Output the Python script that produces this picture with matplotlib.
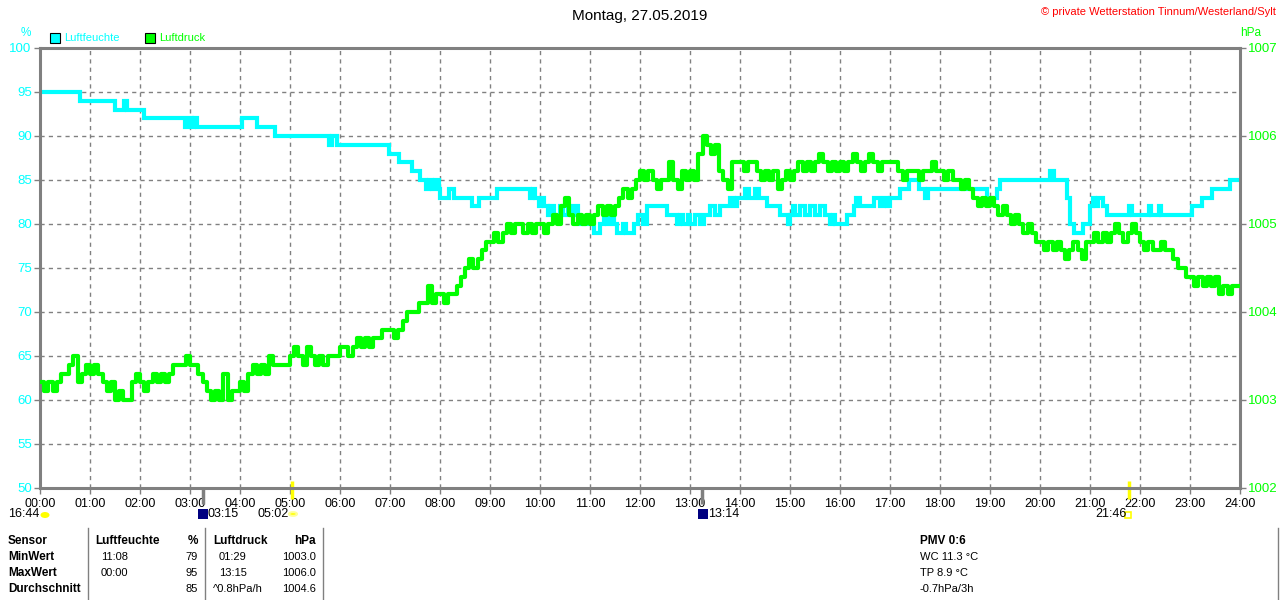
import numpy as np
import matplotlib
matplotlib.use('Agg')
import matplotlib.pyplot as plt
from matplotlib.patches import Rectangle, Circle, Ellipse

plt.rcParams['font.family'] = ['Liberation Sans', 'DejaVu Sans']

# Luftfeuchte (%) - step changes (hour, value)
hum_hours = [0.0, 0.8, 1.5, 1.67, 1.73, 2.07, 2.9, 2.97, 3.03, 3.08, 3.13, 4.03, 4.33, 4.7,
             5.77, 5.83, 5.93, 6.97, 7.17, 7.43, 7.6, 7.72, 7.77, 7.83, 7.9, 7.97, 8.0, 8.17,
             8.27, 8.63, 8.77, 9.13, 9.8, 9.85, 9.9, 9.97, 10.02, 10.07, 10.15, 10.2, 10.27,
             10.4, 10.45, 10.55, 10.62, 10.7, 10.75, 10.8, 11.07, 11.2, 11.27, 11.33, 11.4,
             11.47, 11.53, 11.65, 11.72, 11.87, 11.95, 12.05, 12.13, 12.53, 12.73, 12.8, 12.85,
             12.95, 13.0, 13.1, 13.2, 13.27, 13.4, 13.5, 13.6, 13.8, 13.87, 13.93, 14.1, 14.17,
             14.3, 14.37, 14.53, 14.8, 14.95, 15.0, 15.05, 15.1, 15.2, 15.3, 15.4, 15.5, 15.6,
             15.7, 15.8, 15.85, 15.9, 16.13, 16.27, 16.33, 16.4, 16.67, 16.8, 16.87, 16.93,
             17.0, 17.2, 17.37, 17.57, 17.7, 17.75, 18.93, 19.13, 19.2, 20.2, 20.27, 20.53,
             20.6, 20.67, 20.85, 21.0, 21.05, 21.1, 21.15, 21.25, 21.33, 21.77, 21.83, 22.17,
             22.22, 22.37, 22.42, 23.03, 23.23, 23.43, 23.8, 24.0]
hum_vals = [95, 94, 93, 94, 93, 92, 91, 92, 91, 92, 91, 92, 91, 90,
            89, 90, 89, 88, 87, 86, 85, 84, 85, 84, 85, 84, 83, 84,
            83, 82, 83, 84, 83, 84, 83, 82, 83, 82, 81, 82, 81,
            82, 81, 82, 81, 82, 81, 80, 79, 80, 81, 80, 81,
            80, 79, 80, 79, 80, 81, 80, 82, 81, 80, 81, 80,
            81, 80, 81, 80, 81, 82, 81, 82, 83, 82, 83, 84, 83,
            84, 83, 82, 81, 80, 81, 82, 81, 82, 81, 82, 81, 82,
            81, 80, 81, 80, 81, 82, 83, 82, 83, 82, 83, 82,
            83, 84, 85, 84, 83, 84, 83, 84, 85, 86, 85, 83,
            80, 79, 80, 82, 83, 82, 83, 82, 81, 82, 81, 82,
            81, 82, 81, 82, 83, 84, 85, 85]

# Luftdruck (hPa) - 5 minute values, one row per hour
press_vals = [
    1003.2, 1003.1, 1003.2, 1003.1, 1003.2, 1003.3, 1003.3, 1003.4, 1003.5, 1003.2, 1003.3, 1003.4,
    1003.3, 1003.4, 1003.3, 1003.2, 1003.1, 1003.2, 1003.0, 1003.1, 1003.0, 1003.0, 1003.2, 1003.3,
    1003.2, 1003.1, 1003.2, 1003.3, 1003.2, 1003.3, 1003.2, 1003.3, 1003.4, 1003.4, 1003.4, 1003.5,
    1003.4, 1003.4, 1003.3, 1003.2, 1003.1, 1003.0, 1003.1, 1003.0, 1003.3, 1003.0, 1003.1, 1003.1,
    1003.2, 1003.1, 1003.3, 1003.4, 1003.3, 1003.4, 1003.3, 1003.5, 1003.4, 1003.4, 1003.4, 1003.4,
    1003.5, 1003.6, 1003.5, 1003.4, 1003.6, 1003.5, 1003.4, 1003.5, 1003.4, 1003.5, 1003.5, 1003.5,
    1003.6, 1003.6, 1003.5, 1003.6, 1003.7, 1003.6, 1003.7, 1003.6, 1003.7, 1003.7, 1003.8, 1003.8,
    1003.8, 1003.7, 1003.8, 1003.9, 1004.0, 1004.0, 1004.0, 1004.1, 1004.1, 1004.3, 1004.1, 1004.2,
    1004.2, 1004.1, 1004.2, 1004.2, 1004.3, 1004.4, 1004.5, 1004.6, 1004.5, 1004.6, 1004.7, 1004.8,
    1004.8, 1004.9, 1004.8, 1004.9, 1005.0, 1004.9, 1005.0, 1005.0, 1004.9, 1005.0, 1004.9, 1005.0,
    1005.0, 1004.9, 1005.0, 1005.1, 1005.0, 1005.2, 1005.3, 1005.1, 1005.0, 1005.1, 1005.0, 1005.1,
    1005.0, 1005.1, 1005.2, 1005.1, 1005.2, 1005.1, 1005.2, 1005.3, 1005.4, 1005.3, 1005.4, 1005.5,
    1005.6, 1005.5, 1005.6, 1005.5, 1005.4, 1005.5, 1005.5, 1005.7, 1005.5, 1005.4, 1005.6, 1005.5,
    1005.6, 1005.5, 1005.8, 1006.0, 1005.9, 1005.8, 1005.9, 1005.6, 1005.5, 1005.4, 1005.7, 1005.7,
    1005.7, 1005.6, 1005.7, 1005.7, 1005.6, 1005.5, 1005.6, 1005.5, 1005.6, 1005.4, 1005.5, 1005.6,
    1005.5, 1005.6, 1005.7, 1005.6, 1005.7, 1005.6, 1005.7, 1005.8, 1005.7, 1005.6, 1005.7, 1005.6,
    1005.7, 1005.6, 1005.7, 1005.8, 1005.7, 1005.6, 1005.7, 1005.8, 1005.7, 1005.6, 1005.7, 1005.7,
    1005.7, 1005.7, 1005.6, 1005.5, 1005.6, 1005.6, 1005.6, 1005.5, 1005.6, 1005.6, 1005.7, 1005.6,
    1005.6, 1005.5, 1005.6, 1005.5, 1005.5, 1005.4, 1005.5, 1005.4, 1005.3, 1005.2, 1005.3, 1005.2,
    1005.3, 1005.2, 1005.1, 1005.2, 1005.1, 1005.0, 1005.1, 1005.0, 1004.9, 1005.0, 1004.9, 1004.8,
    1004.8, 1004.7, 1004.8, 1004.7, 1004.8, 1004.7, 1004.6, 1004.7, 1004.8, 1004.7, 1004.6, 1004.8,
    1004.8, 1004.9, 1004.8, 1004.9, 1004.8, 1004.9, 1005.0, 1004.9, 1004.8, 1004.9, 1005.0, 1004.9,
    1004.8, 1004.7, 1004.8, 1004.7, 1004.7, 1004.8, 1004.7, 1004.7, 1004.6, 1004.5, 1004.5, 1004.4,
    1004.4, 1004.3, 1004.4, 1004.3, 1004.4, 1004.3, 1004.4, 1004.2, 1004.3, 1004.2, 1004.3, 1004.3,
    1004.3,
]
press_hours = np.arange(len(press_vals)) / 12.0

hour_ticks = list(range(25))
hour_labels = ['%02d:00' % h for h in hour_ticks]
hum_ticks = [50, 55, 60, 65, 70, 75, 80, 85, 90, 95, 100]
press_ticks = [1002, 1003, 1004, 1005, 1006, 1007]

table_rows = ['MinWert', 'MaxWert', 'Durchschnitt']
hum_time = ['11:08', '00:00', '']
hum_stat = ['79', '95', '85']
press_time = ['01:29', '13:15', '^0.8hPa/h']
press_stat = ['1003.0', '1006.0', '1004.6']
extra_info = ['WC 11.3 °C', 'TP 8.9 °C', '-0.7hPa/3h']

CYAN = '#00ffff'
GREEN = '#00ff00'
GRAY = '#808080'
W, H = 1280, 600


def fx(x):
    return x / W


def fy(y):
    return 1 - y / H


fig = plt.figure(figsize=(12.8, 6.0), dpi=100)
ax = fig.add_axes([fx(40), fy(488), fx(1200), 440 / H])
ax.set_xlim(0, 24)
ax.set_ylim(50, 100)
ax.set_xticks(hour_ticks)
ax.set_xticklabels(hour_labels, fontsize=9)
ax.set_yticks(hum_ticks)
ax.set_yticklabels([str(v) for v in hum_ticks], fontsize=9.5, color=CYAN)
ax.tick_params(axis='both', colors=GRAY, length=4, width=1, pad=2)
ax.tick_params(axis='x', labelcolor='black', pad=3)
ax.tick_params(axis='y', labelcolor=CYAN)
ax.grid(True, color=GRAY, linestyle=(0, (3, 3)), linewidth=1)
for sp in ax.spines.values():
    sp.set_color(GRAY)
    sp.set_linewidth(2.2)

ax.plot(hum_hours, hum_vals, drawstyle='steps-post', color=CYAN, linewidth=3, solid_joinstyle='miter')

ax2 = ax.twinx()
ax2.set_ylim(1002, 1007)
ax2.set_yticks(press_ticks)
ax2.set_yticklabels([str(v) for v in press_ticks], fontsize=9.5)
ax2.tick_params(axis='y', colors=GRAY, labelcolor=GREEN, length=4, width=1, pad=2)
for sp in ax2.spines.values():
    sp.set_visible(False)
ax2.plot(press_hours, press_vals, drawstyle='steps-post', color=GREEN, linewidth=3)

# sun / moon markers on the time axis
for h, c in [(3.25, GRAY), (13.23, GRAY)]:
    ax.plot([h, h], [50, 48.2], color=c, linewidth=2.5, clip_on=False, solid_capstyle='butt')
for h in [5.03, 21.77]:
    ax.plot([h, h], [50.8, 48.8], color='#ffff00', linewidth=2.5, clip_on=False, solid_capstyle='butt')

# header texts
fig.text(0.5, fy(16), 'Montag, 27.05.2019', ha='center', va='center', fontsize=11)
fig.text(fx(1276), fy(12), '© private Wetterstation Tinnum/Westerland/Sylt', ha='right', va='center',
         fontsize=8, color='red')
fig.text(fx(26), fy(33), '%', ha='center', va='center', fontsize=8.5, color=CYAN)
fig.text(fx(1251), fy(33), 'hPa', ha='center', va='center', fontsize=8.5, color=GREEN)
fig.patches.append(Rectangle((fx(50), fy(43)), fx(10), 10 / H, transform=fig.transFigure,
                             facecolor=CYAN, edgecolor='black', linewidth=0.8))
fig.text(fx(64), fy(38), 'Luftfeuchte', va='center', fontsize=8, color=CYAN)
fig.patches.append(Rectangle((fx(145), fy(43)), fx(10), 10 / H, transform=fig.transFigure,
                             facecolor=GREEN, edgecolor='black', linewidth=0.8))
fig.text(fx(159), fy(38), 'Luftdruck', va='center', fontsize=8, color=GREEN)

# astro row
fig.text(fx(8), fy(514), '16:44', va='center', fontsize=9)
fig.patches.append(Ellipse((fx(45), fy(515)), fx(9), 6 / H, transform=fig.transFigure,
                           facecolor='#ffff00', edgecolor='none'))
fig.patches.append(Rectangle((fx(198), fy(519)), fx(10), 10 / H, transform=fig.transFigure,
                             facecolor='#000080', edgecolor='none'))
fig.text(fx(208), fy(514), '03:15', va='center', fontsize=9)
fig.text(fx(258), fy(514), '05:02', va='center', fontsize=9)
fig.patches.append(Circle((fx(293), fy(514)), 4 / W, transform=fig.transFigure,
                          facecolor='#ffff00', edgecolor='#ffff99', linewidth=1.5))
fig.patches.append(Rectangle((fx(698), fy(519)), fx(10), 10 / H, transform=fig.transFigure,
                             facecolor='#000080', edgecolor='none'))
fig.text(fx(708), fy(514), '13:14', va='center', fontsize=9)
fig.text(fx(1095), fy(514), '21:46', va='center', fontsize=9)
fig.patches.append(Rectangle((fx(1125), fy(518)), fx(6), 6 / H, transform=fig.transFigure,
                             facecolor='none', edgecolor='#ffff00', linewidth=1.2))

# statistics table
for xl in [88, 205, 323, 1278]:
    fig.add_artist(plt.Line2D([fx(xl), fx(xl)], [fy(528), fy(600)], color=GRAY, linewidth=1))
row_y = [557, 573, 589]
fs = 8
fb = 8.5
fig.text(fx(8), fy(541), 'Sensor', va='center', fontsize=fb, fontweight='bold')
fig.text(fx(95), fy(541), 'Luftfeuchte', va='center', fontsize=fb, fontweight='bold')
fig.text(fx(198), fy(541), '%', va='center', ha='right', fontsize=fb, fontweight='bold')
fig.text(fx(213), fy(541), 'Luftdruck', va='center', fontsize=fb, fontweight='bold')
fig.text(fx(316), fy(541), 'hPa', va='center', ha='right', fontsize=fb, fontweight='bold')
for i, y in enumerate(row_y):
    fig.text(fx(8), fy(y), table_rows[i], va='center', fontsize=fb, fontweight='bold')
    fig.text(fx(101), fy(y), hum_time[i], va='center', fontsize=fs)
    fig.text(fx(198), fy(y), hum_stat[i], va='center', ha='right', fontsize=fs)
    x_pt = 213 if press_time[i].startswith('^') else 219
    fig.text(fx(x_pt), fy(y), press_time[i], va='center', fontsize=fs)
    fig.text(fx(316), fy(y), press_stat[i], va='center', ha='right', fontsize=fs)
    fig.text(fx(920), fy(y), extra_info[i], va='center', fontsize=fs)
fig.text(fx(920), fy(541), 'PMV 0:6', va='center', fontsize=fb, fontweight='bold')

fig.savefig('out.png', dpi=100)
